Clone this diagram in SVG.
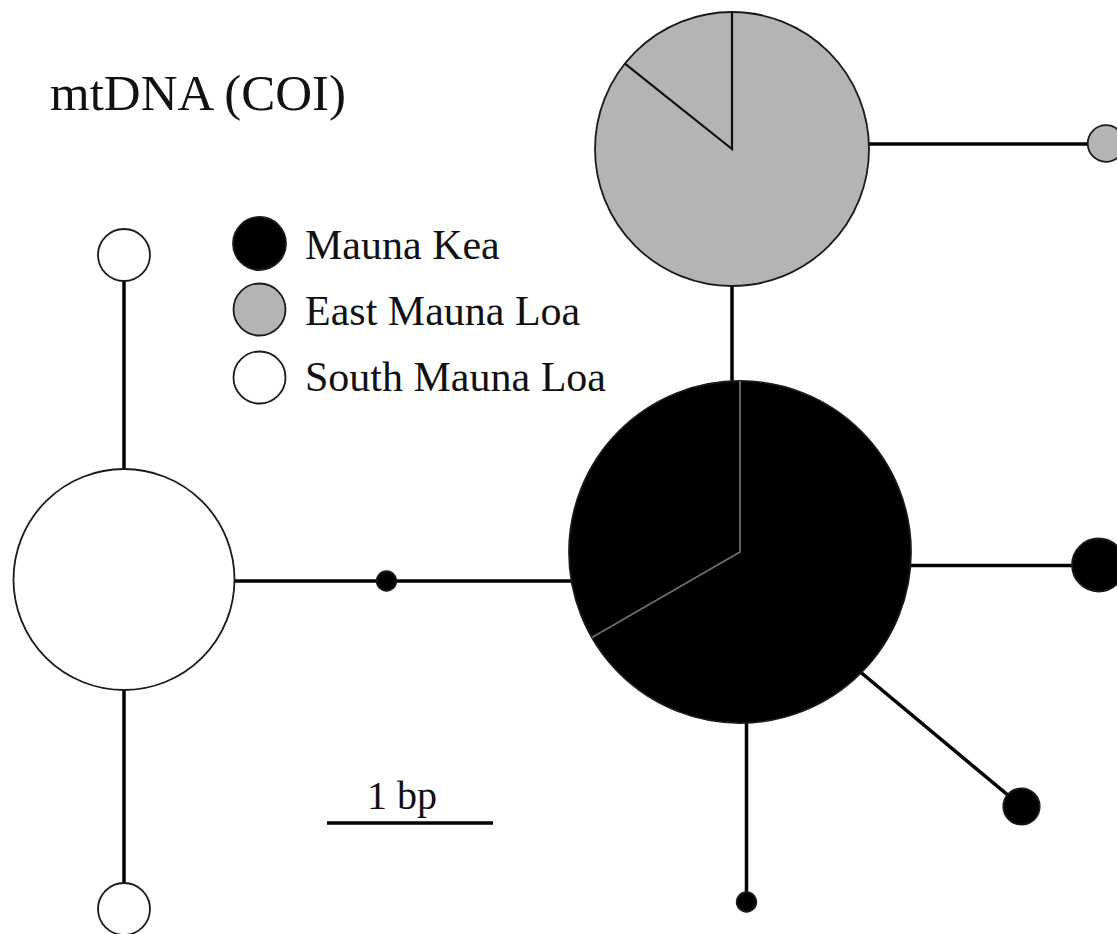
<svg xmlns="http://www.w3.org/2000/svg" width="1117" height="934" viewBox="0 0 1117 934">
<style>
.edge{stroke:#000;stroke-width:3.5;fill:none}
.node{stroke:#1a1a1a;stroke-width:1.8}
.kea{fill:#000}
.east{fill:#b4b4b4}
.south{fill:#fff}
.lbl{font-family:"Liberation Serif","Times New Roman",serif;fill:#111}
</style>
<rect width="1117" height="934" fill="#fff"/>
<text class="lbl" x="50" y="110" font-size="51">mtDNA (COI)</text>
<g id="legend">
<circle class="node kea" cx="259.5" cy="243.5" r="26.5"/>
<circle class="node east" cx="259.5" cy="309.5" r="26"/>
<circle class="node south" cx="259.5" cy="377.5" r="26"/>
<text class="lbl" x="305" y="259" font-size="42">Mauna Kea</text>
<text class="lbl" x="305" y="325" font-size="42">East Mauna Loa</text>
<text class="lbl" x="305" y="391" font-size="42">South Mauna Loa</text>
</g>
<g id="scalebar">
<line x1="327" y1="823" x2="493" y2="823" stroke="#000" stroke-width="3.5"/>
<text class="lbl" x="367" y="809" font-size="40">1 bp</text>
</g>
<g id="connectors">
<line class="edge" x1="869" y1="144" x2="1090" y2="144"/>
<line class="edge" x1="732" y1="286" x2="732" y2="383"/>
<line class="edge" x1="910" y1="565.5" x2="1073" y2="565.5"/>
<line class="edge" x1="858" y1="670" x2="1021.5" y2="806.5"/>
<line class="edge" x1="746.5" y1="720" x2="746.5" y2="900"/>
<line class="edge" x1="233" y1="581" x2="572" y2="581"/>
<line class="edge" x1="124" y1="281" x2="124" y2="470"/>
<line class="edge" x1="124" y1="689" x2="124" y2="884"/>
</g>
<g id="hap-east-main">
<circle class="node east" cx="732" cy="149" r="137"/>
<path d="M732,12 L732,149 L624.9,63.6" fill="none" stroke="#111" stroke-width="2.2"/>
</g>
<g id="hap-east-tip">
<circle class="node east" cx="1106" cy="143.5" r="18.3"/>
</g>
<g id="hap-kea-main">
<circle class="node kea" cx="740" cy="552" r="171"/>
<path d="M740,381 L740,552 L591.9,637.5" fill="none" stroke="#6e6e6e" stroke-width="1.8"/>
</g>
<g id="hap-kea-right">
<circle class="node kea" cx="1098.5" cy="565" r="26.5"/>
</g>
<g id="hap-kea-diag">
<circle class="node kea" cx="1021.5" cy="806.5" r="18.2"/>
</g>
<g id="hap-kea-bottom">
<circle class="node kea" cx="746.5" cy="902" r="9.8"/>
</g>
<g id="median-vector">
<circle class="node kea" cx="386.5" cy="581" r="9.8"/>
</g>
<g id="hap-south-main">
<circle class="node south" cx="124" cy="579.5" r="110.5"/>
</g>
<g id="hap-south-top">
<circle class="node south" cx="124" cy="255" r="26"/>
</g>
<g id="hap-south-bottom">
<circle class="node south" cx="124" cy="909" r="26"/>
</g>
</svg>
